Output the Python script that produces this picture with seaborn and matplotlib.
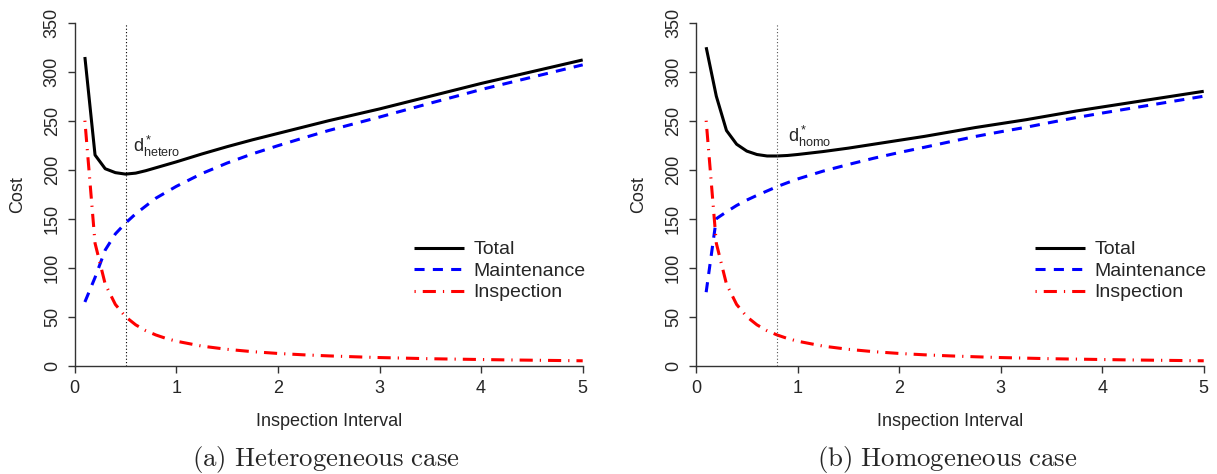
import pandas as pd
import seaborn as sns
import matplotlib.pyplot as plt

# Inspection interval grid (finer near the start where curves bend)
interval = [0.1, 0.2, 0.3, 0.4, 0.5, 0.6, 0.7, 0.8, 0.9, 1.0,
            1.25, 1.5, 1.75, 2.0, 2.25, 2.5, 2.75, 3.0, 3.25, 3.5,
            3.75, 4.0, 4.25, 4.5, 4.75, 5.0]

# (a) heterogeneous case
hetero_total = [315, 215, 201, 197, 195.5, 196.5, 199, 202, 205, 208,
                216, 223.5, 230.5, 237, 243.5, 250, 256, 262, 268.5, 275,
                281.5, 288, 294, 300, 306, 312]
hetero_maint = [65, 90, 118, 134.5, 145.5, 155, 163, 171, 177, 183,
                196, 206.8, 216.2, 224.5, 232.4, 240, 246.9, 253.7, 260.8, 267.9,
                274.8, 281.8, 288.1, 294.4, 300.7, 307]
hetero_insp = [250, 125, 83.3, 62.5, 50, 41.7, 35.7, 31.3, 27.8, 25,
               20, 16.7, 14.3, 12.5, 11.1, 10, 9.1, 8.3, 7.7, 7.1,
               6.7, 6.3, 5.9, 5.6, 5.3, 5]

# (b) homogeneous case
homo_total = [325, 275, 240, 226, 219, 215.5, 214, 214, 214.5, 215.5,
              218.5, 222, 226, 230, 234, 238.5, 243, 247, 251, 255.5,
              260, 264, 268, 272, 276, 280]
homo_maint = [75, 150, 157, 163.5, 169, 173.8, 178.3, 182.8, 186.7, 190.5,
              198.5, 205.3, 211.7, 217.5, 222.9, 228.5, 233.9, 238.7, 243.3, 248.4,
              253.3, 257.8, 262.1, 266.4, 270.7, 275]
homo_insp = hetero_insp

opt_interval = [0.5, 0.8]
opt_labels = [r"$\mathregular{d^*_{hetero}}$", r"$\mathregular{d^*_{homo}}$"]
opt_text_pos = [(0.57, 218), (0.905, 228.5)]
captions = ["(a) Heterogeneous case", "(b) Homogeneous case"]

series_names = ["Total", "Maintenance", "Inspection"]
series_styles = {
    "Total": dict(color="black", linestyle="-"),
    "Maintenance": dict(color="blue", linestyle=(0, (3.3, 2.7))),
    "Inspection": dict(color="red", linestyle=(0, (0.4, 2.3, 4.3, 2.3))),
}

sns.set_style("white")
plt.rcParams["font.family"] = ["Liberation Sans", "DejaVu Sans"]
plt.rcParams["mathtext.fontset"] = "custom"
plt.rcParams["mathtext.rm"] = "Liberation Sans"

fig = plt.figure(figsize=(12.17, 4.74), dpi=100)
ax_boxes = [[0.0614, 0.2285, 0.4174, 0.7236],
            [0.5719, 0.2285, 0.4172, 0.7236]]

panels = [
    (hetero_total, hetero_maint, hetero_insp),
    (homo_total, homo_maint, homo_insp),
]

for i, (total, maint, insp) in enumerate(panels):
    ax = fig.add_axes(ax_boxes[i])
    df = pd.DataFrame({"interval": interval, "Total": total,
                       "Maintenance": maint, "Inspection": insp})
    long_df = df.melt(id_vars="interval", var_name="series", value_name="cost")

    for name in series_names:
        sub = long_df[long_df["series"] == name]
        sns.lineplot(data=sub, x="interval", y="cost", ax=ax, label=name,
                     lw=2.2, dash_capstyle="butt", solid_capstyle="butt",
                     **series_styles[name])

    ax.axvline(opt_interval[i], color="black" if i == 0 else "#555555",
               linestyle=(0, (1, 2)), lw=0.8)
    ax.text(opt_text_pos[i][0], opt_text_pos[i][1], opt_labels[i],
            fontsize=13, va="baseline", ha="left")

    ax.set_xlim(0, 5)
    ax.set_ylim(0, 350)
    ax.set_xticks(range(0, 6))
    ax.set_yticks(range(0, 351, 50))
    for side in ["top", "right"]:
        ax.spines[side].set_visible(False)
    for side in ["left", "bottom"]:
        ax.spines[side].set_color("#333333")
        ax.spines[side].set_linewidth(1.0)
    ax.tick_params(axis="both", direction="out", length=5, width=1.0,
                   color="#333333", labelsize=13, left=True, bottom=True)
    ax.tick_params(axis="x", pad=5)
    ax.tick_params(axis="y", pad=5)
    for lab in ax.get_yticklabels():
        lab.set_rotation(90)
        lab.set_va("center")

    ax.set_xlabel("Inspection Interval", fontsize=13)
    ax.set_ylabel("Cost", fontsize=13)
    ax.xaxis.set_label_coords(0.5, -0.138)
    ax.yaxis.set_label_coords(-0.096, 0.5)
    ax.patch.set_alpha(0)

    ax.legend(loc="upper left", bbox_to_anchor=(0.668, 0.364),
              frameon=False, fontsize=14, handlelength=2.57,
              handletextpad=0.49, labelspacing=0.2,
              borderaxespad=0, borderpad=0)

    center_x = ax_boxes[i][0] + ax_boxes[i][2] / 2
    fig.text(center_x - 0.002, 8.3 / 474, captions[i].replace(" ", r"\ ").join(["$\\mathrm{", "}$"]),
             ha="center", va="baseline", fontsize=19.3, math_fontfamily="cm")

fig.savefig("out.png", dpi=100)
